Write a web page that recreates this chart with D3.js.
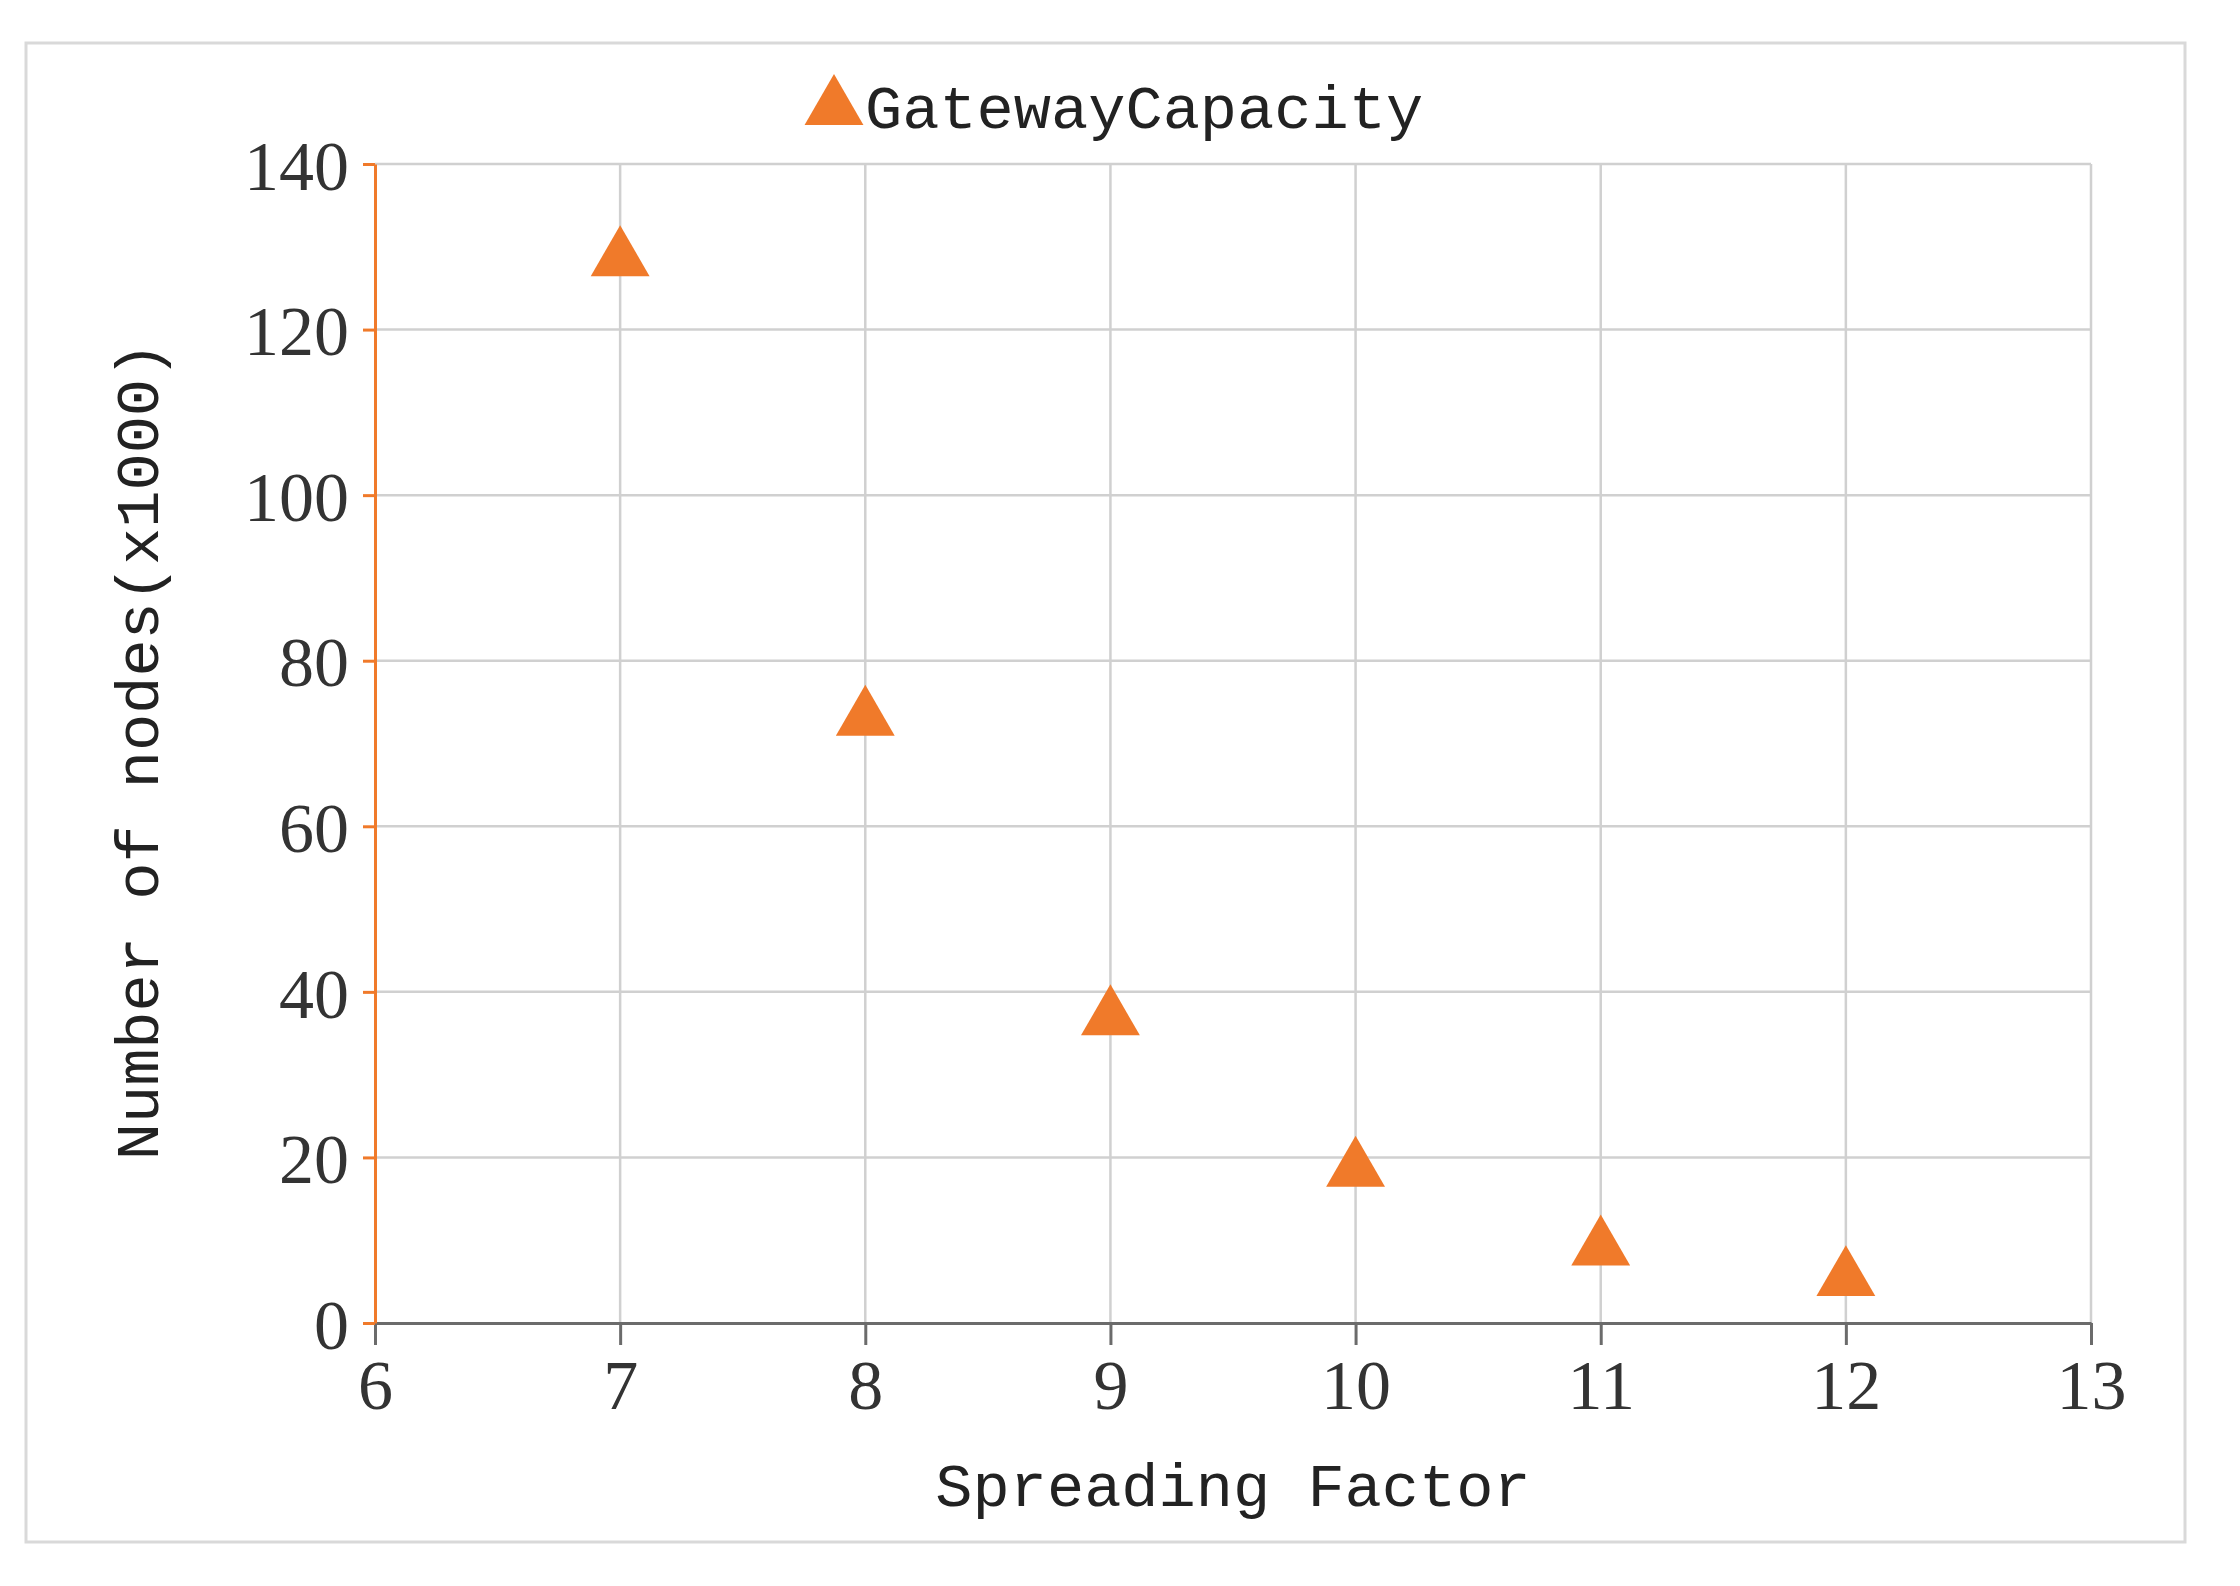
<!DOCTYPE html>
<html><head><meta charset="utf-8">
<script src="https://cdn.jsdelivr.net/npm/d3@7"></script>
<style>body{margin:0;background:#fff}</style></head>
<body><script>
var sf = [7, 8, 9, 10, 11, 12];
var capacity = [128.5, 73, 36.8, 18.5, 9, 5.3];
var xTicks = [6, 7, 8, 9, 10, 11, 12, 13];
var yTicks = [0, 20, 40, 60, 80, 100, 120, 140];

var W = 2240, H = 1586, orange = "#f07a2a";
var svg = d3.select("body").append("svg").attr("width", W).attr("height", H);
svg.append("rect").attr("x", 26).attr("y", 43).attr("width", 2159).attr("height", 1499)
    .attr("fill", "#fff").attr("stroke", "#d9d9d9").attr("stroke-width", 3);

var x = d3.scaleLinear().domain([6, 13]).range([375, 2091]);
var y = d3.scaleLinear().domain([0, 140]).range([1323, 164]);

// grid
svg.selectAll("line.vg").data(xTicks.slice(1)).enter().append("line")
    .attr("x1", d => x(d)).attr("x2", d => x(d)).attr("y1", y(140)).attr("y2", y(0))
    .attr("stroke", "#d0d0d0").attr("stroke-width", 2.5);
svg.selectAll("line.hg").data(yTicks.slice(1)).enter().append("line")
    .attr("x1", x(6)).attr("x2", x(13)).attr("y1", d => y(d)).attr("y2", d => y(d))
    .attr("stroke", "#d0d0d0").attr("stroke-width", 2.5);

var tickFont = "'Liberation Serif', serif";
var xa = svg.append("g").attr("transform", "translate(0," + y(0) + ")")
    .call(d3.axisBottom(x).tickValues(xTicks).tickFormat(d3.format("d"))
        .tickSize(22).tickSizeOuter(0).tickPadding(14));
xa.selectAll("path,line").attr("stroke", "#6b6b6b").attr("stroke-width", 3);
xa.selectAll("text").attr("font-family", tickFont).attr("font-size", 70).attr("fill", "#333");

var ya = svg.append("g").attr("transform", "translate(" + x(6) + ",0)")
    .call(d3.axisLeft(y).tickValues(yTicks).tickFormat(d3.format("d"))
        .tickSize(12).tickSizeOuter(0).tickPadding(14));
ya.selectAll("path,line").attr("stroke", orange).attr("stroke-width", 3);
ya.selectAll("text").attr("font-family", tickFont).attr("font-size", 70).attr("fill", "#333")
    .attr("dy", "0.36em");

var tri = d3.symbol().type(d3.symbolTriangle).size(1500);
svg.selectAll("path.pt").data(sf).enter().append("path")
    .attr("d", tri).attr("fill", orange)
    .attr("transform", (d, i) => "translate(" + x(d) + "," + y(capacity[i]) + ")");

var mono = "'Liberation Mono', monospace";
svg.append("text").attr("x", (x(6) + x(13)) / 2).attr("y", 1506).attr("text-anchor", "middle")
    .attr("font-family", mono).attr("font-size", 62).attr("fill", "#222").text("Spreading Factor");
svg.append("text").attr("transform", "translate(158,751) rotate(-90)")
    .attr("text-anchor", "middle").attr("font-family", mono).attr("font-size", 62).attr("fill", "#222")
    .text("Number of nodes(x1000)");

svg.append("path").attr("d", tri).attr("fill", orange).attr("transform", "translate(834,108)");
svg.append("text").attr("x", 865).attr("y", 128).attr("font-family", mono).attr("font-size", 62)
    .attr("fill", "#222").text("GatewayCapacity");
</script></body></html>
